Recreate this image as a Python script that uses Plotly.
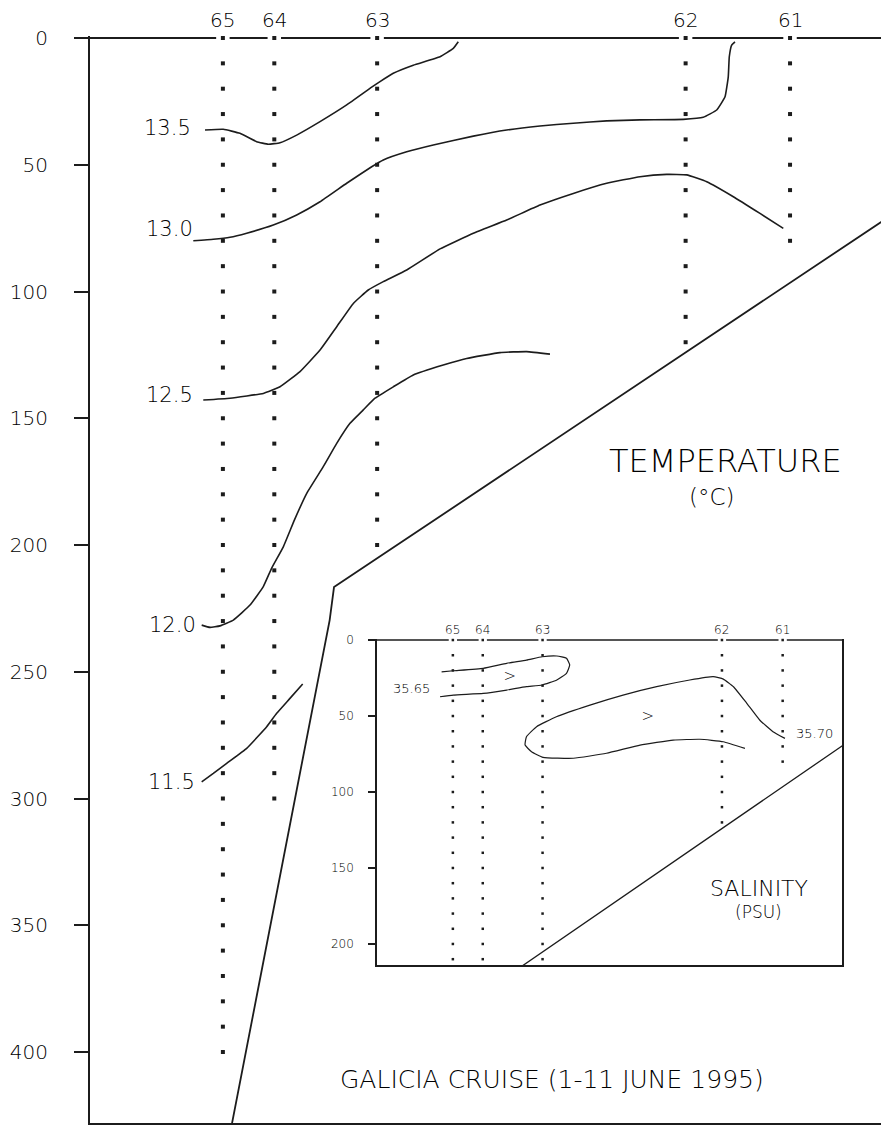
import numpy as np
import plotly.graph_objects as go

# ---------------- stations ----------------
stations = ["65", "64", "63", "62", "61"]
station_x = [16.8, 23.3, 36.3, 75.3, 88.5]          # distance along section
cast_depth_temp = [400, 300, 200, 120, 80]           # deepest sample (m)
cast_depth_sal = [210, 210, 210, 120, 80]

# ---------------- sea floor ----------------
bottom_x = [17.9, 30.3, 30.85, 101.5]
bottom_d = [429.0, 229.6, 216.6, 69.5]

# ---------------- isotherms (deg C) ----------------
t135_x = [14.54, 16.85, 18.96, 21.07, 22.54, 24.02, 26.13, 29.08, 32.45, 35.61,
          36.66, 38.34, 40.87, 44.25, 45.93, 46.56]
t135_d = [36.3, 36.0, 37.6, 40.9, 41.9, 41.3, 38.3, 33.0, 26.4, 19.4,
          17.2, 13.9, 10.7, 7.4, 4.1, 1.5]

t130_x = [13.06, 15.59, 17.70, 19.81, 23.17, 26.13, 29.08, 32.45, 35.61, 37.08,
          40.04, 43.40, 48.46, 52.68, 56.89, 61.10, 65.32, 69.53, 75.01, 77.53,
          79.23, 80.28, 80.69, 80.82, 81.12, 81.54]
t130_d = [80.0, 79.4, 78.6, 77.0, 73.8, 69.8, 64.6, 57.3, 50.8, 48.1,
          44.9, 42.2, 38.7, 36.3, 34.7, 33.6, 32.7, 32.3, 32.1, 31.3,
          28.4, 23.2, 15.3, 7.4, 2.8, 1.5]

t125_x = [14.32, 17.70, 21.91, 24.02, 26.55, 29.08, 31.19, 33.29, 35.18, 37.08,
          40.04, 44.25, 48.46, 52.68, 56.89, 61.10, 65.32, 69.53, 72.91, 75.44,
          77.97, 81.33, 84.70, 87.65]
t125_d = [142.8, 142.1, 140.2, 137.6, 131.6, 123.1, 113.9, 104.7, 99.4, 96.1,
          91.5, 83.2, 77.0, 71.8, 65.9, 61.3, 57.3, 54.7, 53.8, 54.0,
          56.7, 62.6, 69.2, 75.1]

t120_x = [14.12, 15.17, 16.43, 18.12, 20.23, 21.91, 22.97, 24.44, 25.85, 27.40,
          29.49, 31.19, 32.87, 34.55, 36.03, 38.34, 40.87, 44.66, 47.62, 51.83,
          55.21, 58.15]
t120_d = [231.6, 232.5, 231.9, 229.6, 223.7, 216.4, 209.1, 200.7, 190.1, 179.6,
          169.1, 159.9, 152.0, 146.7, 142.1, 137.6, 132.9, 129.0, 126.4, 124.1,
          123.7, 124.7]

t115_x = [14.12, 15.59, 17.28, 19.81, 22.34, 23.60, 25.28, 26.89]
t115_d = [293.4, 290.1, 286.1, 280.2, 271.7, 266.4, 260.5, 254.8]

iso_labels = ["13.5", "13.0", "12.5", "12.0", "11.5"]
iso_label_x = [13.0, 13.3, 13.3, 13.65, 13.5]
iso_label_d = [35.6, 75.3, 140.9, 231.7, 293.3]

# ---------------- isohalines (PSU) ----------------
s3565_x = [14.35, 16.9, 23.4, 28.5, 32.8, 36.2, 39.4, 41.5, 42.2, 41.5,
           39.4, 36.2, 32.8, 28.5, 23.4, 16.9, 14.0]
s3565_d = [20.9, 20.2, 18.6, 15.3, 13.2, 11.0, 10.5, 12.0, 16.4, 21.9,
           26.3, 29.6, 30.7, 32.9, 35.1, 36.2, 37.3]

s3570_x = [89.0, 86.4, 83.5, 80.7, 77.8, 75.6, 73.4, 68.3, 61.1, 53.8,
           46.6, 39.3, 35.0, 32.8, 32.5, 33.9, 36.4, 43.0, 50.2, 57.5,
           64.7, 70.5, 75.6, 80.3]
s3570_d = [64.7, 60.3, 52.6, 41.6, 30.7, 25.7, 24.1, 26.3, 30.7, 36.2,
           42.8, 50.5, 57.0, 63.6, 69.1, 73.5, 77.2, 77.8, 74.5, 69.1,
           65.8, 65.3, 66.9, 71.3]

sal_labels = ["35.65", "35.70"]
sal_label_x = [7.9, 95.5]
sal_label_d = [31.6, 61.8]
sal_max_x = [29.2, 59.2]
sal_max_d = [24.3, 50.7]

INK = "#1c1c1c"
TXT = "#000000"
FONT = "DejaVu Sans"


def tfont(size):
    return dict(family=FONT, size=size, color=TXT, weight=300)


def surface_line(xs, gap, x0, x1):
    """Surface line broken around each station mark."""
    px, py = [], []
    edges = [x0] + [v for s in xs for v in (s - gap, s + gap)] + [x1]
    for a, b in zip(edges[0::2], edges[1::2]):
        px += [a, b, None]
        py += [0, 0, None]
    return px, py


def cast_dots(xs, depths):
    dx, dy = [], []
    for s, dmax in zip(xs, depths):
        d = np.arange(0, dmax + 1, 10)
        dx += [s] * len(d)
        dy += list(d)
    return dx, dy


fig = go.Figure()

# ---------- temperature section ----------
for xs, ds in [(t135_x, t135_d), (t130_x, t130_d), (t125_x, t125_d),
               (t120_x, t120_d), (t115_x, t115_d)]:
    fig.add_trace(go.Scatter(x=xs, y=ds, mode="lines",
                             line=dict(color=INK, width=1.6, shape="spline", smoothing=0.35),
                             xaxis="x", yaxis="y", hoverinfo="skip"))

fig.add_trace(go.Scatter(x=bottom_x, y=bottom_d, mode="lines",
                         line=dict(color=INK, width=1.8), xaxis="x", yaxis="y"))

sx, sy = surface_line(station_x, 0.85, 0, 100)
fig.add_trace(go.Scatter(x=sx, y=sy, mode="lines", line=dict(color=INK, width=2),
                         xaxis="x", yaxis="y"))

dx, dy = cast_dots(station_x, cast_depth_temp)
fig.add_trace(go.Scatter(x=dx, y=dy, mode="markers", cliponaxis=False,
                         marker=dict(symbol="square", size=4, color=INK),
                         xaxis="x", yaxis="y"))

# ---------- salinity inset ----------
for xs, ds in [(s3565_x, s3565_d), (s3570_x, s3570_d)]:
    fig.add_trace(go.Scatter(x=xs, y=ds, mode="lines",
                             line=dict(color=INK, width=1.2, shape="spline", smoothing=0.4),
                             xaxis="x2", yaxis="y2"))

fig.add_trace(go.Scatter(x=bottom_x, y=bottom_d, mode="lines",
                         line=dict(color=INK, width=1.3), xaxis="x2", yaxis="y2"))

sx2, sy2 = surface_line(station_x, 0.9, 0.3, 101.4)
fig.add_trace(go.Scatter(x=sx2, y=sy2, mode="lines", line=dict(color=INK, width=1.5),
                         xaxis="x2", yaxis="y2"))

dx2, dy2 = cast_dots(station_x, cast_depth_sal)
fig.add_trace(go.Scatter(x=dx2, y=dy2, mode="markers", cliponaxis=False,
                         marker=dict(symbol="square", size=2.5, color=INK),
                         xaxis="x2", yaxis="y2"))

fig.add_trace(go.Scatter(x=sal_max_x, y=sal_max_d, mode="text", text=[">", ">"],
                         textfont=tfont(15), xaxis="x2", yaxis="y2"))

# ---------- text ----------
ann = []
for lab, x in zip(stations, station_x):
    ann.append(dict(x=x, y=1.0147, xref="x", yref="paper", text=lab, showarrow=False,
                    yanchor="middle", font=tfont(20)))
    ann.append(dict(x=x, y=0.4535, xref="x2", yref="paper", text=lab, showarrow=False,
                    yanchor="middle", font=tfont(12)))

for lab, x, d in zip(iso_labels, iso_label_x, iso_label_d):
    ann.append(dict(x=x, y=d, xref="x", yref="y", text=lab, showarrow=False,
                    xanchor="right", yanchor="middle", font=tfont(21)))

for lab, x, d in zip(sal_labels, sal_label_x, sal_label_d):
    ann.append(dict(x=x, y=d, xref="x2", yref="y2", text=lab, showarrow=False,
                    font=tfont(13)))

ann += [
    dict(x=80.4, y=166.9, xref="x", yref="y", text="TEMPERATURE", showarrow=False,
         font=tfont(32)),
    dict(x=78.6, y=181.1, xref="x", yref="y", text="(°C)", showarrow=False,
         font=tfont(23)),
    dict(x=84.6, y=335.3, xref="x", yref="y", text="SALINITY", showarrow=False,
         font=tfont(22)),
    dict(x=84.5, y=344.8, xref="x", yref="y", text="(PSU)", showarrow=False,
         font=tfont(17)),
    dict(x=58.4, y=411.0, xref="x", yref="y", text="GALICIA CRUISE (1-11 JUNE 1995)",
         showarrow=False, font=tfont(25)),
]

fig.update_layout(
    width=881, height=1125,
    margin=dict(l=90, r=0, t=36, b=2),
    paper_bgcolor="white", plot_bgcolor="white",
    showlegend=False,
    annotations=ann,
    xaxis=dict(domain=[0, 1], range=[0, 100], showgrid=False, zeroline=False,
               showticklabels=False, ticks="", showline=True, linecolor=INK, linewidth=2),
    yaxis=dict(domain=[0, 1], range=[428.0, -0.79], showgrid=False, zeroline=False,
               tickvals=[0, 50, 100, 150, 200, 250, 300, 350, 400],
               ticks="outside", ticklen=14, tickwidth=2, tickcolor=INK,
               showline=True, linecolor=INK, linewidth=2,
               ticklabelstandoff=22, tickfont=tfont(20)),
    xaxis2=dict(domain=[0.3628, 0.9507], range=[0.3, 101.4], anchor="y2",
                showgrid=False, zeroline=False, showticklabels=False, ticks="",
                showline=True, linecolor=INK, linewidth=1.5),
    yaxis2=dict(domain=[0.1454, 0.4457], range=[213.8, -1.0], anchor="x2",
                showgrid=False, zeroline=False,
                tickvals=[0, 50, 100, 150, 200],
                ticks="outside", ticklen=7, tickwidth=1.5, tickcolor=INK,
                showline=True, mirror=True, linecolor=INK, linewidth=1.5,
                ticklabelstandoff=12, tickfont=tfont(12)),
)

fig.write_html("out.html")
